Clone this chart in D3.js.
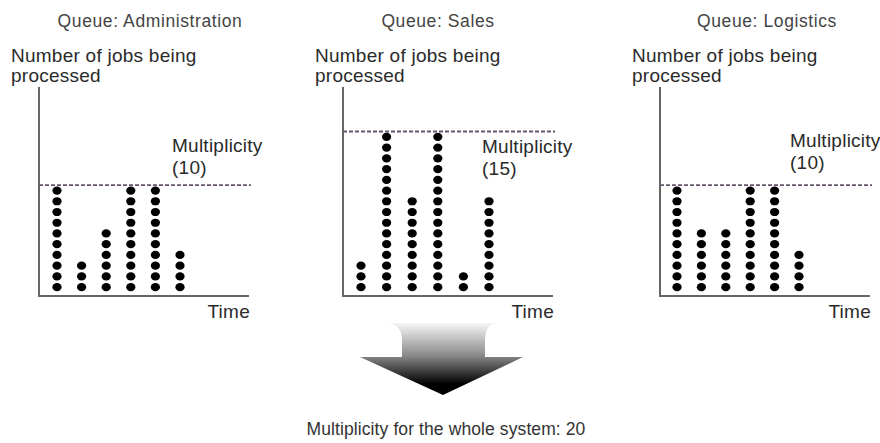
<!DOCTYPE html>
<html>
<head>
<meta charset="utf-8">
<script src="https://cdn.jsdelivr.net/npm/d3@7"></script>
<style>
  html, body { margin: 0; padding: 0; background: #fff; }
  svg { display: block; font-family: "Liberation Sans", Arial, sans-serif; }
</style>
</head>
<body>
<svg id="chart" width="880" height="443"></svg>
<script>
// ---- data ----
const queues = ["Administration", "Sales", "Logistics"];
const multiplicities = [10, 15, 10];
const jobsAdministration = [10, 3, 6, 10, 10, 4];
const jobsSales = [3, 15, 9, 15, 2, 9];
const jobsLogistics = [10, 6, 6, 10, 10, 4];
const seriesJobs = [jobsAdministration, jobsSales, jobsLogistics];
const systemMultiplicity = 20;
const yAxisLabel = ["Number of jobs being", "processed"];
const xAxisLabel = "Time";

// ---- layout (positions kept separate from data) ----
const layout = [
  { ox: 39,  titleX: 150, colStart: 18, colEnd: 141, multX: 133, multY: 0 },
  { ox: 343, titleX: 438, colStart: 18, colEnd: 146, multX: 139, multY: 1 },
  { ox: 660, titleX: 767, colStart: 17, colEnd: 139, multX: 130, multY: -5 }
];
const axisBottom = 296, axisTop = 87, axisLen = 210;

const svg = d3.select("#chart");

// y scale shared: one unit per job
const y = d3.scaleLinear().domain([0, 15]).range([292.5, 131.5]);

// gradient for arrow
const defs = svg.append("defs");
const grad = defs.append("linearGradient")
  .attr("id", "arrowGrad").attr("x1", 0).attr("y1", 0).attr("x2", 0).attr("y2", 1);
grad.append("stop").attr("offset", "0%").attr("stop-color", "#f6f6f6");
grad.append("stop").attr("offset", "45%").attr("stop-color", "#8a8a8a");
grad.append("stop").attr("offset", "85%").attr("stop-color", "#000");
grad.append("stop").attr("offset", "100%").attr("stop-color", "#000");

queues.forEach((q, qi) => {
  const L = layout[qi];
  const g = svg.append("g");
  const data = seriesJobs[qi];
  const x = d3.scalePoint()
    .domain(d3.range(data.length))
    .range([L.ox + L.colStart, L.ox + L.colEnd]);

  // title
  g.append("text")
    .attr("x", L.titleX).attr("y", 27)
    .attr("text-anchor", "middle")
    .attr("font-size", 17.5).attr("letter-spacing", 0.6).attr("fill", "#444")
    .text("Queue: " + q);

  // y label
  yAxisLabel.forEach((t, i) => {
    g.append("text")
      .attr("x", L.ox - 28).attr("y", 62 + i * 20)
      .attr("font-size", 19).attr("letter-spacing", 0.25).attr("fill", "#2a2a2a")
      .text(t);
  });

  // axes
  g.append("line")
    .attr("x1", L.ox).attr("x2", L.ox)
    .attr("y1", axisTop).attr("y2", axisBottom)
    .attr("stroke", "#666").attr("stroke-width", 2);
  g.append("line")
    .attr("x1", L.ox - 1).attr("x2", L.ox + axisLen)
    .attr("y1", axisBottom).attr("y2", axisBottom)
    .attr("stroke", "#666").attr("stroke-width", 2);

  // x label
  g.append("text")
    .attr("x", L.ox + axisLen + 1).attr("y", 318)
    .attr("text-anchor", "end")
    .attr("font-size", 19).attr("letter-spacing", 0.25).attr("fill", "#2a2a2a")
    .text(xAxisLabel);

  // multiplicity dashed line
  const m = multiplicities[qi];
  g.append("line")
    .attr("x1", L.ox).attr("x2", L.ox + axisLen + 2)
    .attr("y1", y(m)).attr("y2", y(m))
    .attr("stroke", "#66566c").attr("stroke-width", 1.8)
    .attr("stroke-dasharray", "4,2");

  // multiplicity label
  g.append("text")
    .attr("x", L.ox + L.multX).attr("y", 152 + L.multY)
    .attr("font-size", 19).attr("letter-spacing", 0.25).attr("fill", "#2a2a2a")
    .text("Multiplicity");
  g.append("text")
    .attr("x", L.ox + L.multX).attr("y", 174 + L.multY)
    .attr("font-size", 19).attr("letter-spacing", 0.25).attr("fill", "#2a2a2a")
    .text("(" + m + ")");

  // dots
  const dots = [];
  data.forEach((n, ci) => {
    for (let k = 1; k <= n; k++) dots.push({ c: ci, k: k });
  });
  g.selectAll("ellipse.dot").data(dots).enter().append("ellipse")
    .attr("class", "dot")
    .attr("cx", d => x(d.c))
    .attr("cy", d => y(d.k - 0.5))
    .attr("rx", 4.6).attr("ry", 4.1)
    .attr("fill", "#000");
});

// big arrow
const arrow = d3.path();
arrow.moveTo(388, 323);
arrow.quadraticCurveTo(402, 325, 402, 340);
arrow.lineTo(402, 357);
arrow.lineTo(360, 357);
arrow.lineTo(443, 395);
arrow.lineTo(523, 357);
arrow.lineTo(485, 357);
arrow.lineTo(485, 340);
arrow.quadraticCurveTo(485, 325, 496, 323);
arrow.closePath();
svg.append("path")
  .attr("d", arrow.toString())
  .attr("fill", "url(#arrowGrad)");

svg.append("text")
  .attr("x", 446).attr("y", 435)
  .attr("text-anchor", "middle")
  .attr("font-size", 17.5).attr("letter-spacing", 0.1).attr("fill", "#333")
  .text("Multiplicity for the whole system: " + systemMultiplicity);
</script>
</body>
</html>
